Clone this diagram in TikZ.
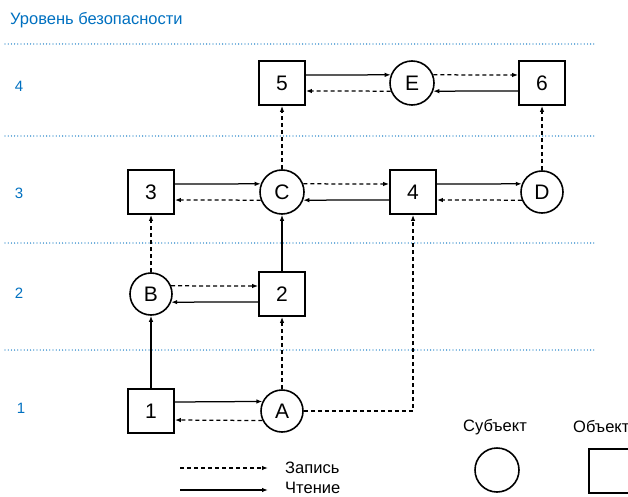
\documentclass[tikz,border=0pt]{standalone}
\usepackage{fontspec}
\setmainfont{Liberation Sans}
\usepackage{xcolor}
\usepackage{tikz}
\usetikzlibrary{arrows.meta,positioning,calc}
\definecolor{lvlblue}{RGB}{0,112,192}

\begin{document}
\begin{tikzpicture}[
  x=1pt, y=-1pt,
  obj/.style={rectangle, draw, line width=1.8pt, minimum width=46pt,
              minimum height=44pt, inner sep=0pt, font=\fontsize{21}{24}\selectfont},
  subj/.style={circle, draw, line width=1.6pt, minimum size=44pt,
               inner sep=0pt, font=\fontsize{21}{24}\selectfont},
  rd/.style={-{Latex[length=6pt,width=4.5pt]}, line width=1.25pt},
  wr/.style={-{Latex[length=6pt,width=4.5pt]}, line width=1.25pt,
             dash pattern=on 4pt off 3pt},
  lvl/.style={lvlblue, line width=1.3pt, line cap=round,
              dash pattern=on 0pt off 3.2pt},
  lbl/.style={font=\fontsize{16.5}{19}\selectfont, inner sep=0pt},
  num/.style={lvlblue, font=\fontsize{15}{17}\selectfont, inner sep=0pt},
]
  \useasboundingbox (0,0) rectangle (628,497);

  \node[lbl, lvlblue, anchor=west] (title) at (10,20) {Уровень безопасности};
  \foreach \y in {44,136,243,350}
    \draw[lvl] (5,\y) -- (595,\y);
  \node[num] (l4) at (19,86) {4};
  \node[num] (l3) at (19,193) {3};
  \node[num] (l2) at (19,293) {2};
  \node[num] (l1) at (21,408) {1};

  \node[obj]  (o5) at (282,83)  {5};
  \node[subj] (sE) at (412,83)  {E};
  \node[obj]  (o6) at (542,83)  {6};
  \node[obj]  (o3) at (151,192) {3};
  \node[subj] (sC) at (282,192) {C};
  \node[obj]  (o4) at (413,192) {4};
  \node[subj, minimum size=42pt] (sD) at (542,192) {D};
  \node[subj, minimum size=42pt] (sB) at (151,294) {B};
  \node[obj]  (o2) at (282,294) {2};
  \node[obj]  (o1) at (151,411) {1};
  \node[subj, minimum size=42pt] (sA) at (282,411) {A};

  \draw[rd] ([yshift=8pt]o5.east) -- (sE.159);
  \draw[wr] (sE.201) -- ([yshift=-8pt]o5.east);
  \draw[wr] (sE.21) -- ([yshift=8pt]o6.west);
  \draw[rd] ([yshift=-8pt]o6.west) -- (sE.339);

  \draw[rd] ([yshift=8pt]o3.east) -- (sC.159);
  \draw[wr] (sC.201) -- ([yshift=-8pt]o3.east);
  \draw[wr] (sC.21) -- ([yshift=8pt]o4.west);
  \draw[rd] ([yshift=-8pt]o4.west) -- (sC.339);
  \draw[rd] ([yshift=8pt]o4.east) -- (sD.158);
  \draw[wr] (sD.202) -- ([yshift=-8pt]o4.east);

  \draw[wr] (sB.22) -- ([yshift=8pt]o2.west);
  \draw[rd] ([yshift=-8pt]o2.west) -- (sB.338);

  \draw[rd] ([yshift=9pt]o1.east) -- (sA.154);
  \draw[wr] (sA.206) -- ([yshift=-9pt]o1.east);

  \draw[rd] (o1) -- (sB);
  \draw[wr] (sB) -- (o3);
  \draw[rd] (o2) -- (sC);
  \draw[wr] (sC) -- (o5);
  \draw[wr] (sD) -- (o6);
  \draw[wr] (sA) -- (o2);
  \draw[wr] (sA.east) -| (o4.south);

  \coordinate (wa) at (180,468);
  \coordinate (wb) at (268,468);
  \coordinate (ra) at (180,490);
  \coordinate (rb) at (268,490);
  \draw[wr] (wa) -- (wb);
  \draw[rd] (ra) -- (rb);
  \node[lbl, anchor=west] (wtxt) at (285,468) {Запись};
  \node[lbl, anchor=west] (rtxt) at (285,488) {Чтение};

  \node[subj] (subjkey) at (497,470) {};
  \node[lbl] (subjtxt) at (495,427) {Субъект};
  \node[obj, anchor=north west] (objkey) at (588,448) {};
  \node[lbl, anchor=west] (objtxt) at (573,427) {Объект};
\end{tikzpicture}
\end{document}
